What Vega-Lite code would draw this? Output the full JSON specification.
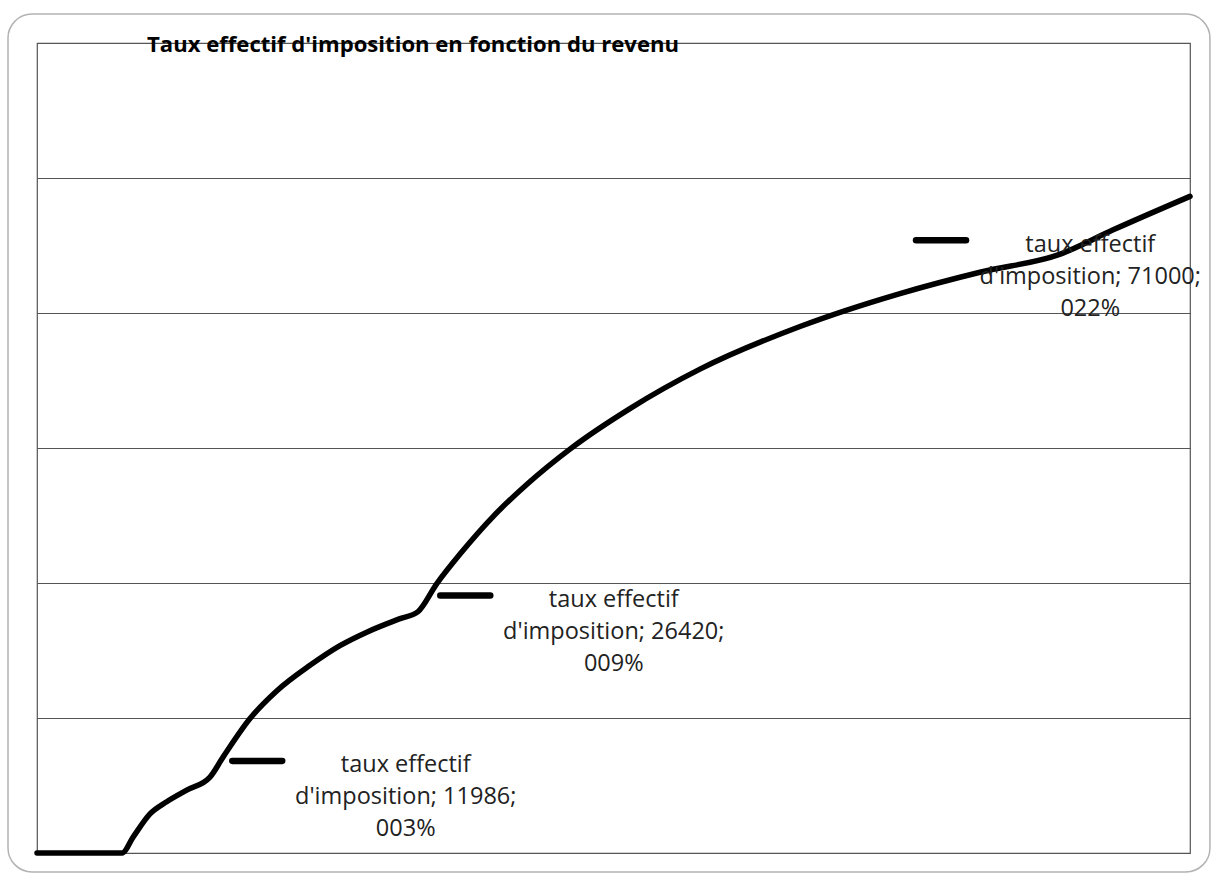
{
  "$schema": "https://vega.github.io/schema/vega-lite/v6.json",
  "autosize": {"type": "none"},
  "width": 1153,
  "height": 810,
  "padding": {"left": 37, "top": 43, "right": 22, "bottom": 23},
  "background": "white",
  "title": {
    "text": "Taux effectif d'imposition en fonction du revenu",
    "anchor": "start",
    "frame": "group",
    "dx": 110,
    "dy": 52,
    "offset": -2,
    "baseline": "middle",
    "font": "Open Sans",
    "fontSize": 22.1,
    "fontWeight": "bold",
    "color": "black"
  },
  "config": {
    "view": {"stroke": "#555555", "strokeWidth": 1.2}
  },
  "datasets": {
    "frame": [{"name": "frame"}],
    "curve": [
      {"income": 0, "rate": 0},
      {"income": 5900, "rate": 0},
      {"income": 6680, "rate": 0.6},
      {"income": 7840, "rate": 1.45},
      {"income": 9000, "rate": 1.9},
      {"income": 10390, "rate": 2.33},
      {"income": 11986, "rate": 2.8},
      {"income": 12930, "rate": 3.57},
      {"income": 14780, "rate": 4.98},
      {"income": 16630, "rate": 6.0},
      {"income": 18940, "rate": 6.95},
      {"income": 21020, "rate": 7.68},
      {"income": 22880, "rate": 8.18},
      {"income": 25190, "rate": 8.68},
      {"income": 26420, "rate": 8.93},
      {"income": 27730, "rate": 9.97},
      {"income": 29350, "rate": 11.07},
      {"income": 31660, "rate": 12.47},
      {"income": 33980, "rate": 13.65},
      {"income": 36980, "rate": 14.96},
      {"income": 41140, "rate": 16.46},
      {"income": 46000, "rate": 17.92},
      {"income": 52940, "rate": 19.5},
      {"income": 59880, "rate": 20.72},
      {"income": 65500, "rate": 21.52},
      {"income": 71000, "rate": 22.18},
      {"income": 74670, "rate": 23.08},
      {"income": 80000, "rate": 24.32}
    ],
    "labels": [
      {"income": 11986, "rate": 2.8, "label": "taux effectif\nd'imposition; 11986;\n003%"},
      {"income": 26420, "rate": 8.93, "label": "taux effectif\nd'imposition; 26420;\n009%"},
      {"income": 71000, "rate": 22.18, "label": "taux effectif\nd'imposition; 71000;\n022%"}
    ]
  },
  "layer": [
    {
      "data": {"name": "frame"},
      "mark": {"type": "rect", "filled": false, "stroke": "#b3b3b3", "strokeWidth": 1.5, "cornerRadius": 24, "clip": false},
      "encoding": {
        "x": {"datum": -2012, "type": "quantitative", "scale": {"domain": [0, 80000], "nice": false}, "axis": null},
        "x2": {"datum": 81384},
        "y": {"datum": 31.07, "type": "quantitative", "scale": {"domain": [0, 30], "nice": false},
          "axis": {"values": [5, 10, 15, 20, 25], "grid": true, "gridColor": "#555555", "gridOpacity": 1, "gridWidth": 1, "labels": false, "ticks": false, "domain": false, "title": null}},
        "y2": {"datum": -0.7}
      }
    },
    {
      "data": {"name": "curve"},
      "mark": {"type": "line", "color": "black", "strokeWidth": 5.5, "strokeCap": "round", "strokeJoin": "round", "interpolate": "monotone"},
      "encoding": {
        "x": {"field": "income", "type": "quantitative", "scale": {"domain": [0, 80000], "nice": false}, "axis": null},
        "y": {"field": "rate", "type": "quantitative", "scale": {"domain": [0, 30], "nice": false},
          "axis": {"values": [5, 10, 15, 20, 25], "grid": true, "gridColor": "#555555", "gridOpacity": 1, "gridWidth": 1, "labels": false, "ticks": false, "domain": false, "title": null}}
      }
    },
    {
      "data": {"name": "labels"},
      "mark": {"type": "point", "filled": false, "stroke": "black", "strokeWidth": 6.5, "strokeCap": "round", "opacity": 1, "size": 2500},
      "encoding": {
        "x": {"field": "income", "type": "quantitative"},
        "y": {"field": "rate", "type": "quantitative"},
        "shape": {"condition": {"test": "datum.income > 50000", "value": "M-5.77,-0.56H-3.77"}, "value": "M0.9,-0.66H2.9"}
      }
    },
    {
      "data": {"name": "labels"},
      "transform": [{"filter": "datum.income < 50000"}],
      "mark": {"type": "text", "align": "center", "baseline": "alphabetic", "dx": 196, "dy": -5, "lineBreak": "\n", "lineHeight": 32, "font": "Open Sans", "fontSize": 23.5, "color": "#222222"},
      "encoding": {
        "x": {"field": "income", "type": "quantitative"},
        "y": {"field": "rate", "type": "quantitative"},
        "text": {"field": "label", "type": "nominal"}
      }
    },
    {
      "data": {"name": "labels"},
      "transform": [{"filter": "datum.income > 50000"}],
      "mark": {"type": "text", "align": "center", "baseline": "alphabetic", "dx": 30, "dy": -2.5, "lineBreak": "\n", "lineHeight": 32, "font": "Open Sans", "fontSize": 23.5, "color": "#222222"},
      "encoding": {
        "x": {"field": "income", "type": "quantitative"},
        "y": {"field": "rate", "type": "quantitative"},
        "text": {"field": "label", "type": "nominal"}
      }
    }
  ]
}
